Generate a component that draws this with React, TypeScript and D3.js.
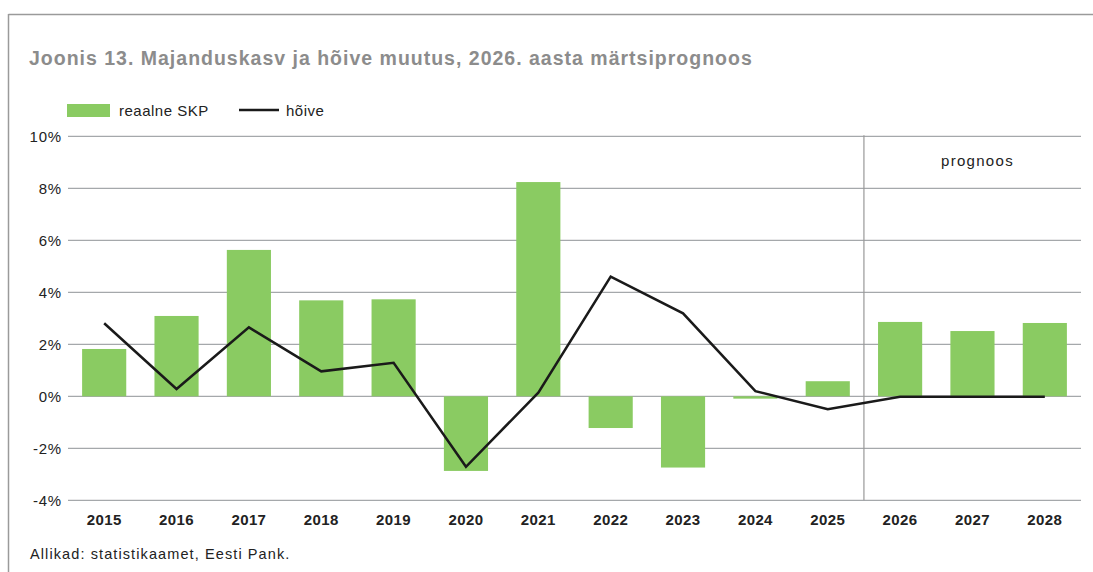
import React, { useEffect, useRef } from 'react'
import * as d3 from 'd3'

const years = ['2015', '2016', '2017', '2018', '2019', '2020', '2021', '2022', '2023', '2024', '2025', '2026', '2027', '2028']
const gdp = [1.82, 3.09, 5.63, 3.69, 3.73, -2.87, 8.24, -1.22, -2.74, -0.09, 0.58, 2.86, 2.51, 2.82]
const employment = [2.81, 0.28, 2.65, 0.96, 1.29, -2.71, 0.14, 4.6, 3.19, 0.2, -0.5, -0.02, -0.02, -0.02]
const yTicks = [-4, -2, 0, 2, 4, 6, 8, 10]
const forecastStart = '2026'

const FONT = '"Liberation Sans", Arial, Helvetica, sans-serif'

const App = () => {
  const svgRef = useRef<SVGSVGElement>(null)

  useEffect(() => {
    const width = 1093
    const height = 572
    const svg = d3.select(svgRef.current).attr('width', width).attr('height', height)
    svg.selectAll('*').remove()

    const left = 68, right = 1081, top = 136.3, bottom = 500.3

    // frame
    svg.append('line').attr('x1', 8.5).attr('x2', 1093).attr('y1', 14.5).attr('y2', 14.5)
      .attr('stroke', '#9a9a9a').attr('stroke-width', 1.5)
    svg.append('line').attr('x1', 8.5).attr('x2', 8.5).attr('y1', 14).attr('y2', 572)
      .attr('stroke', '#9a9a9a').attr('stroke-width', 1.5)

    svg.append('text').attr('x', 29).attr('y', 65)
      .style('font-family', FONT).style('font-weight', 'bold').style('font-size', '19.5px')
      .style('letter-spacing', '1px')
      .attr('fill', '#8c8c8c')
      .text('Joonis 13. Majanduskasv ja hõive muutus, 2026. aasta märtsiprognoos')

    const x = d3.scaleBand().domain(years).range([left, right]).paddingInner(0.39).paddingOuter(0.195)
    const y = d3.scaleLinear().domain([-4, 10]).range([bottom, top])

    // grid
    svg.append('g').selectAll('line').data(yTicks).join('line')
      .attr('x1', left).attr('x2', right)
      .attr('y1', d => y(d)).attr('y2', d => y(d))
      .attr('stroke', '#8f9396').attr('stroke-width', 1)

    svg.append('g').selectAll('text').data(yTicks).join('text')
      .attr('x', 62).attr('y', d => y(d) + 5.5)
      .attr('text-anchor', 'end')
      .style('font-family', FONT).style('font-size', '15px').style('letter-spacing', '0.8px').attr('fill', '#222')
      .text(d => `${d}%`)

    // forecast separator
    const step = x.step()
    const sepX = (x(forecastStart) as number) - (step - x.bandwidth()) / 2
    svg.append('line').attr('x1', sepX).attr('x2', sepX).attr('y1', top - 1).attr('y2', bottom)
      .attr('stroke', '#999').attr('stroke-width', 1.2)
    svg.append('text').attr('x', (sepX + right) / 2 + 5).attr('y', 166)
      .attr('text-anchor', 'middle')
      .style('font-family', FONT).style('font-size', '15px').style('letter-spacing', '1.3px').attr('fill', '#222')
      .text('prognoos')

    // bars
    svg.append('g').selectAll('rect').data(gdp).join('rect')
      .attr('x', (d, i) => x(years[i]) as number)
      .attr('width', x.bandwidth())
      .attr('y', d => y(Math.max(0, d)))
      .attr('height', d => Math.abs(y(d) - y(0)))
      .attr('fill', '#8acb62')

    // line
    const line = d3.line<number>()
      .x((d, i) => (x(years[i]) as number) + x.bandwidth() / 2)
      .y(d => y(d))
    svg.append('path').datum(employment)
      .attr('d', line)
      .attr('fill', 'none').attr('stroke', '#1a1a1a').attr('stroke-width', 2.5)
      .attr('stroke-linejoin', 'miter')

    // x labels
    svg.append('g').selectAll('text').data(years).join('text')
      .attr('x', d => (x(d) as number) + x.bandwidth() / 2)
      .attr('y', 524.5)
      .attr('text-anchor', 'middle')
      .style('font-family', FONT).style('font-weight', 'bold').style('font-size', '15px')
      .style('letter-spacing', '0.4px').attr('fill', '#222')
      .text(d => d)

    // legend
    svg.append('rect').attr('x', 67).attr('y', 104).attr('width', 43).attr('height', 13).attr('fill', '#8acb62')
    svg.append('text').attr('x', 119).attr('y', 115.5)
      .style('font-family', FONT).style('font-size', '15px').style('letter-spacing', '0.5px').attr('fill', '#222')
      .text('reaalne SKP')
    svg.append('line').attr('x1', 239).attr('x2', 279).attr('y1', 110).attr('y2', 110)
      .attr('stroke', '#1a1a1a').attr('stroke-width', 2.5)
    svg.append('text').attr('x', 286).attr('y', 115.5)
      .style('font-family', FONT).style('font-size', '15px').style('letter-spacing', '0.5px').attr('fill', '#222')
      .text('hõive')

    svg.append('text').attr('x', 30).attr('y', 558.5)
      .style('font-family', FONT).style('font-size', '14.5px').style('letter-spacing', '1.1px').attr('fill', '#222')
      .text('Allikad: statistikaamet, Eesti Pank.')
  }, [])

  return (
    <svg ref={svgRef} style={{ position: 'absolute', left: 0, top: 0 }}></svg>
  )
}

export default App
